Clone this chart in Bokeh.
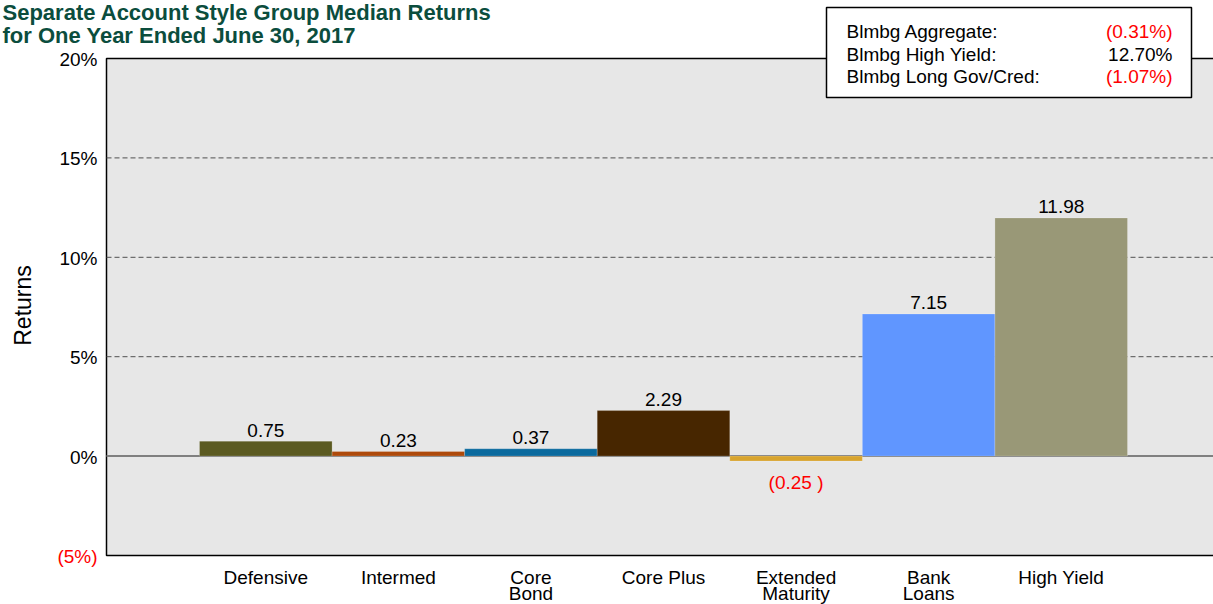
from bokeh.plotting import figure
from bokeh.models import Range1d, Label, BoxAnnotation, ColumnDataSource
from bokeh.embed import file_html
from bokeh.resources import INLINE
from bokeh.core.properties import value
import math

# ---- data ----
categories = ["Defensive", "Intermed", "Core\nBond", "Core Plus", "Extended\nMaturity", "Bank\nLoans", "High Yield"]
returns = [0.75, 0.23, 0.37, 2.29, -0.25, 7.15, 11.98]
colors = ["#5B5A21", "#AE4A0B", "#0B6A9E", "#472600", "#D8A42E", "#6096FF", "#999877"]
y_ticks = [-5, 0, 5, 10, 15, 20]
y_tick_labels = ["(5%)", "0%", "5%", "10%", "15%", "20%"]
grid_ticks = [5, 10, 15]
bench_names = ["Blmbg Aggregate:", "Blmbg High Yield:", "Blmbg Long Gov/Cred:"]
bench_values = [-0.31, 12.70, -1.07]
title_lines = ["Separate Account Style Group Median Returns", "for One Year Ended June 30, 2017"]
y_axis_title = "Returns"

# ---- layout constants (page pixels) ----
FONT = "Liberation Sans"
W, H = 1213, 604
PAGE_X0, PAGE_Y0 = 0, 0
PPX = 132.57              # px per category
C0 = 265.3                # page x of first category centre
PLOT_L = 106              # page x of plot-area left edge
PLOT_T, PLOT_B = 58, 555  # page y of top (20%) and bottom (-5%)
YMIN, YMAX = min(y_ticks), max(y_ticks)
PPY = (PLOT_B - PLOT_T) / (YMAX - YMIN)


def dx(px):
    return (px - C0) / PPX


def dy(py):
    return YMAX - (py - PLOT_T) / PPY


x_start, x_end = dx(PAGE_X0), dx(PAGE_X0 + W)
y_start, y_end = dy(PAGE_Y0 + H), dy(PAGE_Y0)

p = figure(width=W, height=H, x_range=Range1d(x_start, x_end), y_range=Range1d(y_start, y_end),
           output_backend="svg", toolbar_location=None, x_axis_location=None, y_axis_location=None,
           min_border_left=0, min_border_top=0, min_border_right=0, min_border_bottom=0,
           background_fill_color="white", border_fill_color="white", outline_line_color=None)
p.xgrid.visible = False
p.ygrid.visible = False

# plot area background + border
p.add_layout(BoxAnnotation(left=dx(PLOT_L), right=x_end + 1, bottom=YMIN, top=YMAX,
                           fill_color="#E7E7E7", fill_alpha=1.0, line_color="black",
                           line_width=1.5, line_alpha=1.0, level="underlay"))

# y tick labels and axis title
tick_src = ColumnDataSource(dict(x=[dx(PLOT_L - 9)] * len(y_ticks), y=y_ticks, t=y_tick_labels,
                                 c=["red" if t < 0 else "black" for t in y_ticks]))
p.text(x="x", y="y", text="t", text_color="c", source=tick_src, text_align="right",
       text_baseline="middle", y_offset=1, text_font=value(FONT), text_font_size="19px")
p.text(x=[dx(22)], y=[dy(305)], text=[y_axis_title], angle=math.pi / 2, text_align="center",
       text_baseline="middle", text_font=value(FONT), text_font_size="23px", text_color="black")

# category labels (one text row per label line)
xs = list(range(len(categories)))
for row in range(2):
    lx, lt = [], []
    for x, c in zip(xs, categories):
        parts = c.split("\n")
        if row < len(parts):
            lx.append(x)
            lt.append(parts[row])
    p.text(x=lx, y=[dy(577 + 16 * row)] * len(lx), text=lt, text_align="center", text_baseline="middle",
           text_font=value(FONT), text_font_size="19px", text_color="black")

# grid lines
p.segment(x0=[dx(PLOT_L)] * len(grid_ticks), x1=[x_end + 1] * len(grid_ticks), y0=grid_ticks, y1=grid_ticks,
          line_color="#505050", line_width=1, line_dash="5 3")
# zero line
p.segment(x0=[dx(PLOT_L)], x1=[x_end + 1], y0=[0], y1=[0], line_color="#808080", line_width=2)

# bars
src = ColumnDataSource(dict(x=xs, top=returns, color=colors))
p.vbar(x="x", top="top", bottom=0, width=1.0, fill_color="color", line_color="white", line_alpha=0.2,
       line_width=1, source=src)

pos = ColumnDataSource(dict(x=[x for x, v in zip(xs, returns) if v >= 0],
                            y=[v for v in returns if v >= 0],
                            t=[f"{v:.2f}" for v in returns if v >= 0]))
neg = ColumnDataSource(dict(x=[x for x, v in zip(xs, returns) if v < 0],
                            y=[v for v in returns if v < 0],
                            t=[f"({abs(v):.2f} )" for v in returns if v < 0]))
p.text(x="x", y="y", text="t", source=pos, text_align="center", text_baseline="middle", y_offset=-11,
       text_font=value(FONT), text_font_size="19px", text_color="black")
p.text(x="x", y="y", text="t", source=neg, text_align="center", text_baseline="middle", y_offset=21,
       text_font=value(FONT), text_font_size="19px", text_color="red")

# title
for i, line in enumerate(title_lines):
    p.add_layout(Label(x=dx(PAGE_X0 + 2), y=dy(12 + 23 * i), text=line, text_align="left",
                       text_baseline="middle", text_font=FONT, text_font_size="22px",
                       text_font_style="bold", text_color="#0B4D3D"))

# benchmark box
p.add_layout(BoxAnnotation(left=dx(826), right=dx(1191), top=dy(7), bottom=dy(97),
                           fill_color="white", fill_alpha=1.0, line_color="black", line_width=1.5,
                           line_alpha=1.0, level="overlay"))
for i, (n, v) in enumerate(zip(bench_names, bench_values)):
    yy = dy(31 + 22.5 * i)
    p.add_layout(Label(x=dx(846), y=yy, text=n, text_align="left", text_baseline="middle",
                       text_font=FONT, text_font_size="19px", text_color="black", level="overlay"))
    vt = f"({abs(v):.2f}%)" if v < 0 else f"{v:.2f}%"
    p.add_layout(Label(x=dx(1172), y=yy, text=vt, text_align="right", text_baseline="middle",
                       text_font=FONT, text_font_size="19px", text_color="red" if v < 0 else "black",
                       level="overlay"))

open("out.html", "w").write(file_html(p, INLINE))
